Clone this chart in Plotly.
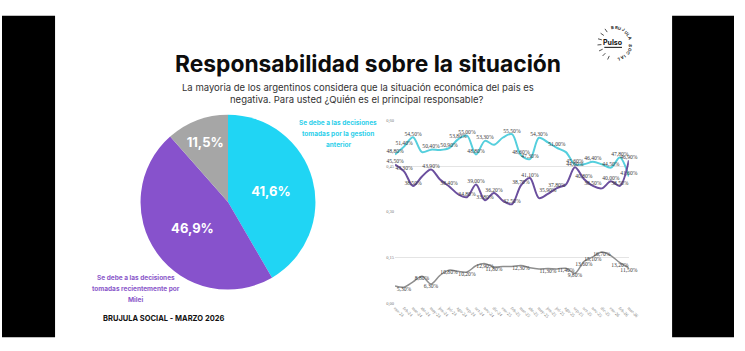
import math
import plotly.graph_objects as go

W, H = 745, 351

# ---------------- data ----------------
pie_labels = ["Se debe a las decisiones tomadas por la gestion anterior",
              "Se debe a las decisiones tomadas recientemente por Milei",
              "Otros / Ns-Nc"]
pie_values = [41.6, 46.9, 11.5]

months = ["ene-24", "feb-24", "mar-24", "abr-24", "may-24", "jun-24", "jul-24", "ago-24", "sep-24",
          "oct-24", "nov-24", "dic-24", "ene-25", "feb-25", "mar-25", "abr-25", "may-25", "jun-25",
          "jul-25", "ago-25", "sep-25", "oct-25", "nov-25", "dic-25", "ene-26", "feb-26", "mar-26"]
gestion_anterior = [48.8, 51.4, 54.5, 49.6, 50.4, 50.3, 50.9, 53.8, 55.0, 48.8, 53.3, 52.0, 54.4, 55.5,
                    48.6, 47.3, 54.3, 52.8, 51.0, 49.6, 45.6, 45.6, 46.4, 45.6, 44.5, 47.8, 41.6]
milei = [45.5, 43.3, 38.5, 41.6, 43.9, 40.6, 38.4, 35.8, 34.8, 39.0, 33.8, 36.2, 33.6, 32.5,
         38.7, 41.1, 34.5, 35.9, 37.8, 39.0, 44.6, 40.8, 38.5, 37.7, 40.0, 38.5, 46.9]
otros = [5.7, 5.3, 7.0, 8.8, 6.3, 9.1, 10.8, 10.4, 10.2, 12.2, 12.9, 11.8, 12.0, 12.0,
         12.3, 11.6, 11.2, 11.3, 11.2, 11.4, 9.8, 13.6, 15.1, 16.7, 15.5, 13.2, 11.5]

# points whose data label is visible in the original
labels_gestion = [0, 1, 2, 4, 6, 7, 8, 9, 10, 13, 14, 15, 16, 18, 20, 22, 24, 25, 26]
labels_milei = [0, 1, 2, 4, 6, 8, 9, 10, 11, 13, 14, 15, 17, 18, 20, 21, 22, 24, 25, 26]
labels_otros = [1, 3, 4, 6, 8, 10, 11, 14, 17, 19, 20, 21, 22, 23, 25, 26]

top_ticks = [0.30, 0.45, 0.60]
bottom_ticks = [0.00, 0.15]

# ---------------- helpers ----------------
def px(x):
    return x / W

def py(y):
    return 1 - y / H

def pct(v, d=2):
    return f"{v:.{d}f}".replace(".", ",") + "%"

def dec(v):
    return f"{v:.2f}".replace(".", ",")

def label_text(vals, shown):
    return [pct(v) if i in shown else "" for i, v in enumerate(vals)]

CYAN_PIE = "#20D5F4"
PURPLE_PIE = "#8752CC"
GRAY_PIE = "#A6A6A6"
CYAN_LINE = "#55CFDD"
PURPLE_LINE = "#6B4F9E"
GRAY_LINE = "#8E8E8E"
SANS = "Inter"
SERIF = "Liberation Serif"

fig = go.Figure()

# ---------------- pie ----------------
fig.add_trace(go.Pie(
    values=pie_values, labels=pie_labels, sort=False, direction="clockwise", rotation=0,
    marker=dict(colors=[CYAN_PIE, PURPLE_PIE, GRAY_PIE], line=dict(width=0)),
    text=[pct(v, 1) for v in pie_values], textinfo="text", textposition="inside",
    insidetextorientation="horizontal",
    textfont=dict(color="white", size=13, family=SANS, weight="bold"),
    domain=dict(x=[px(141), px(319)], y=[py(292), py(114)]),
    showlegend=False, hoverinfo="skip",
))

# ---------------- lines ----------------
lf = dict(size=5.6, family=SERIF, color="#3a3a3a")
fig.add_trace(go.Scatter(
    x=months, y=[v / 100 for v in gestion_anterior], mode="lines+text",
    line=dict(color=CYAN_LINE, width=2, shape="spline", smoothing=0.9),
    text=label_text(gestion_anterior, labels_gestion), textposition="top center",
    textfont=lf, cliponaxis=False, showlegend=False, hoverinfo="skip",
    xaxis="x", yaxis="y"))
fig.add_trace(go.Scatter(
    x=months, y=[v / 100 for v in milei], mode="lines+text",
    line=dict(color=PURPLE_LINE, width=2, shape="spline", smoothing=0.9),
    text=label_text(milei, labels_milei), textposition="top center",
    textfont=lf, cliponaxis=False, showlegend=False, hoverinfo="skip",
    xaxis="x", yaxis="y"))
fig.add_trace(go.Scatter(
    x=months, y=[v / 100 for v in otros], mode="lines+text",
    line=dict(color=GRAY_LINE, width=1.5, shape="spline", smoothing=0.9),
    text=label_text(otros, labels_otros), textposition="bottom center",
    textfont=lf, cliponaxis=False, showlegend=False, hoverinfo="skip",
    xaxis="x2", yaxis="y2"))

tickfont = dict(size=4.5, family=SERIF, color="#777777")
xdom = [px(400), px(638)]
fig.update_layout(
    width=W, height=H, margin=dict(l=0, r=0, t=0, b=0),
    paper_bgcolor="white", plot_bgcolor="rgba(0,0,0,0)",
    xaxis=dict(domain=xdom, anchor="y", type="category", range=[0, len(months) - 1],
               showgrid=False, showticklabels=False, zeroline=False, showline=False),
    yaxis=dict(domain=[py(213), py(120)], anchor="x", range=[0.2995, 0.6005],
               tickvals=top_ticks, ticktext=[dec(t) for t in top_ticks], tickfont=tickfont,
               showgrid=True, gridcolor="#e4e4e4", gridwidth=0.8, zeroline=False, ticks=""),
    xaxis2=dict(domain=xdom, anchor="y2", type="category", range=[0, len(months) - 1],
                showgrid=False, zeroline=False, showline=False, tickangle=45, tickfont=tickfont,
                ticks=""),
    yaxis2=dict(domain=[py(306), py(251)], anchor="x2", range=[-0.0005, 0.175],
                tickvals=bottom_ticks, ticktext=[dec(t) for t in bottom_ticks], tickfont=tickfont,
                showgrid=True, gridcolor="#e4e4e4", gridwidth=0.8, zeroline=False, ticks=""),
)

# ---------------- texts ----------------
ann = []
ann.append(dict(text="<b>Responsabilidad sobre la situación</b>", x=px(373), y=py(62),
                font=dict(size=22.8, family=SANS, color="#0d0d0d")))
ann.append(dict(text="La mayoria de los argentinos considera que la situación económica del pais es",
                x=px(362), y=py(87), font=dict(size=9.5, family=SANS, color="#333333")))
ann.append(dict(text="negativa. Para usted ¿Quién es el principal responsable?",
                x=px(361), y=py(99), font=dict(size=9.5, family=SANS, color="#333333")))
for t, yy in zip(["Se debe a las decisiones", "tomadas por la gestion", "anterior"], [123, 134, 145]):
    ann.append(dict(text=f"<b>{t}</b>", x=px(342), y=py(yy),
                    font=dict(size=6.5, family=SANS, color="#2ECFEA")))
for t, yy in zip(["Se debe a las decisiones", "tomadas recientemente por", "Milei"], [280, 291, 302]):
    ann.append(dict(text=f"<b>{t}</b>", x=px(136), y=py(yy),
                    font=dict(size=6.5, family=SANS, color="#8A57C9")))
ann.append(dict(text="<b>BRUJULA SOCIAL - MARZO 2026</b>", x=px(164), y=py(321),
                font=dict(size=7.5, family=SANS, color="#111111")))

# logo
cx, cy, r = 624, 42, 16
ann.append(dict(text="<b>Pulso</b>", x=px(cx - 2), y=py(cy - 1),
                font=dict(size=7, family=SANS, color="#111111")))
logo_txt = "BRUJULA SOCIAL"
a0, a1 = 100, -78
for i, ch in enumerate(logo_txt):
    th = a0 + (a1 - a0) * i / (len(logo_txt) - 1)
    xx = cx + r * math.cos(math.radians(th))
    yy = cy - r * math.sin(math.radians(th))
    ann.append(dict(text=f"<b>{ch}</b>", x=px(xx), y=py(yy), textangle=90 - th,
                    font=dict(size=4.2, family=SANS, color="#222222")))

for a in ann:
    a.update(xref="paper", yref="paper", showarrow=False, xanchor="center", yanchor="middle")
fig.update_layout(annotations=ann)

shapes = [
    dict(type="rect", xref="paper", yref="paper", x0=0, x1=px(54), y0=py(340), y1=py(14),
         fillcolor="black", line=dict(width=0), layer="below"),
    dict(type="rect", xref="paper", yref="paper", x0=px(682), x1=1, y0=py(340), y1=py(14),
         fillcolor="black", line=dict(width=0), layer="below"),
    dict(type="line", xref="paper", yref="paper", x0=px(cx - 11), x1=px(cx + 7),
         y0=py(cy + 4), y1=py(cy + 4), line=dict(color="#111111", width=1)),
]
for th in [125, 145, 165, 185, 205, 225, 245]:
    c, s = math.cos(math.radians(th)), math.sin(math.radians(th))
    shapes.append(dict(type="line", xref="paper", yref="paper",
                       x0=px(cx + 14 * c), x1=px(cx + 18 * c),
                       y0=py(cy - 14 * s), y1=py(cy - 18 * s),
                       line=dict(color="#222222", width=0.8)))
fig.update_layout(shapes=shapes)

fig.write_html("out.html")
